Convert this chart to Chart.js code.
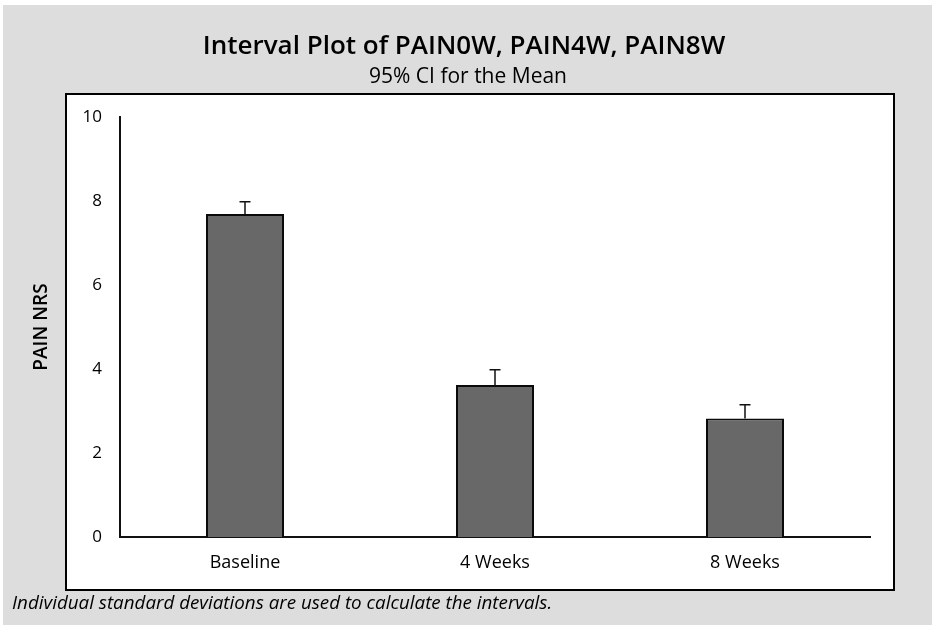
<!DOCTYPE html>
<html>
<head>
<meta charset="utf-8">
<script src="https://cdn.jsdelivr.net/npm/chart.js@4/dist/chart.umd.min.js"></script>
<style>
  html, body { margin: 0; padding: 0; background: #ffffff; }
  #wrap { position: relative; width: 932px; height: 632px; }
</style>
</head>
<body>
<div id="wrap"><canvas id="c" width="932" height="632"></canvas></div>
<script>
const categories = ["Baseline", "4 Weeks", "8 Weeks"];
const meanValues = [7.69, 3.62, 2.82];
const upperCI = [7.98, 3.98, 3.15];
const yTicks = [0, 2, 4, 6, 8, 10];
const titleText = "Interval Plot of PAIN0W, PAIN4W, PAIN8W";
const subtitleText = "95% CI for the Mean";
const footerText = "Individual standard deviations are used to calculate the intervals.";
const yAxisTitle = "PAIN NRS";

const backgroundPlugin = {
  id: 'panelBackground',
  beforeDraw(chart) {
    const ctx = chart.ctx;
    ctx.save();
    ctx.fillStyle = '#ffffff';
    ctx.fillRect(0, 0, chart.width, chart.height);
    ctx.fillStyle = '#dddddd';
    ctx.fillRect(3, 5, chart.width - 3, 620);
    ctx.fillStyle = '#ffffff';
    ctx.fillRect(66, 94, 828, 496);
    ctx.strokeStyle = '#000000';
    ctx.lineWidth = 2;
    ctx.strokeRect(66, 94, 828, 496);
    ctx.restore();
  },
  afterDraw(chart) {
    const ctx = chart.ctx;
    ctx.save();
    ctx.fillStyle = '#000000';
    ctx.textBaseline = 'middle';
    ctx.textAlign = 'center';
    ctx.font = '600 26px "Open Sans"';
    ctx.fillText(titleText, 464, 47);
    ctx.font = '500 21px "Open Sans"';
    ctx.fillText(subtitleText, 468, 77);
    ctx.textAlign = 'left';
    ctx.font = 'italic 18.8px "Open Sans"';
    ctx.fillText(footerText, 12, 604);
    ctx.restore();
  }
};

const errorBarPlugin = {
  id: 'errorBars',
  afterDatasetsDraw(chart) {
    const ctx = chart.ctx;
    const meta = chart.getDatasetMeta(0);
    const y = chart.scales.y;
    ctx.save();
    ctx.strokeStyle = '#111111';
    ctx.lineWidth = 1.5;
    meta.data.forEach((bar, i) => {
      const x = bar.x;
      const yTop = y.getPixelForValue(upperCI[i]);
      const yMean = y.getPixelForValue(meanValues[i]);
      ctx.beginPath();
      ctx.moveTo(x, yMean);
      ctx.lineTo(x, yTop);
      ctx.moveTo(x - 5.5, yTop);
      ctx.lineTo(x + 5.5, yTop);
      ctx.stroke();
    });
    ctx.restore();
  }
};

new Chart(document.getElementById('c'), {
  type: 'bar',
  data: {
    labels: categories,
    datasets: [{
      data: meanValues,
      backgroundColor: '#686868',
      borderColor: '#0a0a0a',
      borderWidth: 2,
      borderSkipped: 'bottom',
      barPercentage: 0.52,
      categoryPercentage: 0.6
    }]
  },
  options: {
    responsive: false,
    animation: false,
    devicePixelRatio: 1,
    layout: { padding: { top: 117, left: 30, right: 62, bottom: 50 } },
    plugins: {
      legend: { display: false },
      tooltip: { enabled: false },
      title: { display: false },
      subtitle: { display: false }
    },
    scales: {
      x: {
        grid: { display: false, drawTicks: false },
        border: { display: true, color: '#111111', width: 2 },
        ticks: { color: '#000000', font: { family: '"Open Sans"', size: 18 }, padding: 15 },
        afterFit(scale) { scale.height = 45; }
      },
      y: {
        min: 0,
        max: 10,
        afterBuildTicks(scale) { scale.ticks = yTicks.map(v => ({ value: v })); },
        grid: { display: false, drawTicks: false },
        border: { display: true, color: '#111111', width: 2 },
        ticks: { color: '#000000', font: { family: '"Open Sans"', size: 17 }, padding: 18 },
        title: {
          display: true,
          text: yAxisTitle,
          color: '#000000',
          font: { family: '"Open Sans"', size: 19, weight: '600' },
          padding: { top: 0, bottom: 0 }
        },
        afterFit(scale) { scale.width = 90; }
      }
    }
  },
  plugins: [backgroundPlugin, errorBarPlugin]
});
</script>
</body>
</html>
